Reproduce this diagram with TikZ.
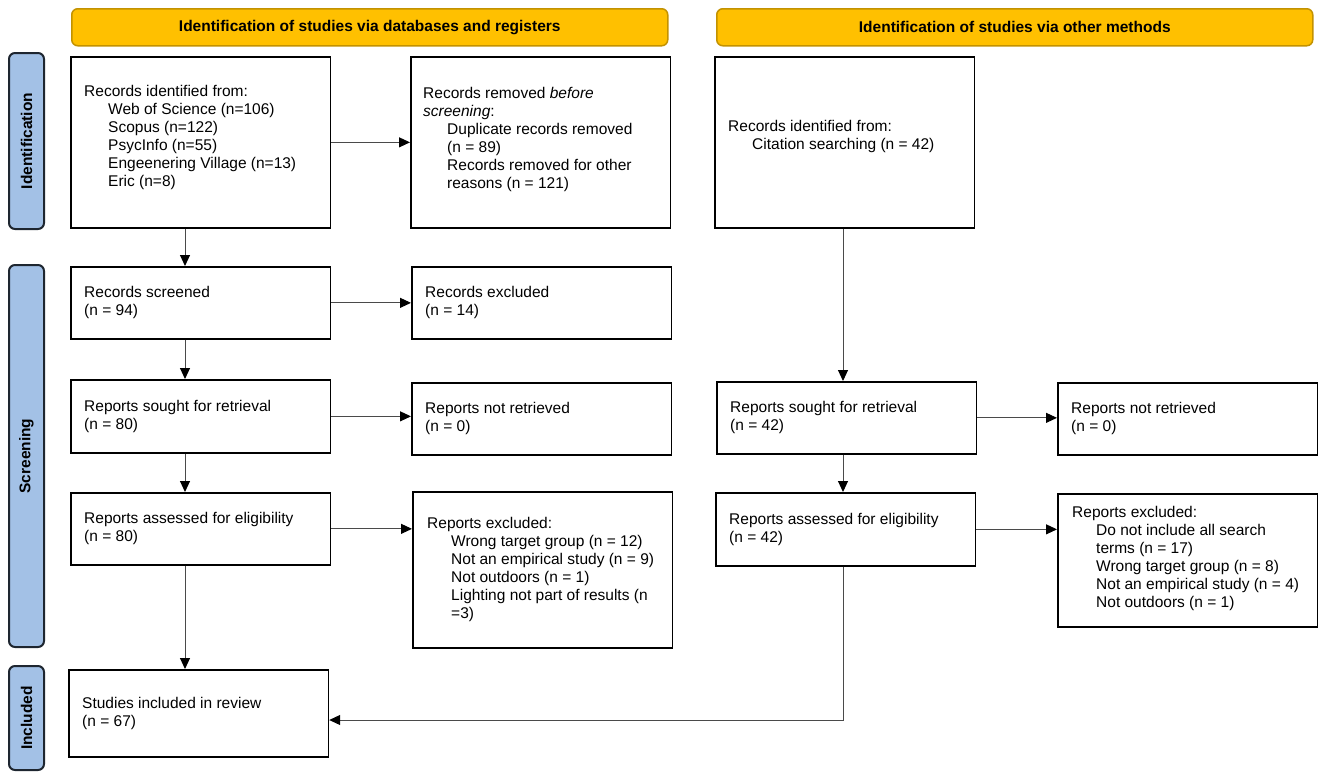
\documentclass[tikz,border=0pt]{standalone}
\usepackage{fontspec}
\setmainfont{Liberation Sans}
\usetikzlibrary{arrows.meta}
\definecolor{hdrfill}{HTML}{FFC000}
\definecolor{hdrline}{HTML}{C39200}
\definecolor{barfill}{HTML}{A3C1E6}
\definecolor{barline}{HTML}{1E2630}
\definecolor{arrcol}{HTML}{4A4A4A}
\newcommand{\myind}{\hspace*{24pt}}
\begin{document}
\begin{tikzpicture}[x=1pt,y=-1pt,
  box/.style={draw=black, line width=1.7pt, fill=white, anchor=north west,
    minimum width=259.5pt, inner sep=0pt},
  txt/.style={anchor=west, inner sep=0pt, align=left,
    font=\fontsize{15.5}{18}\selectfont},
  hdr/.style={draw=hdrline, line width=1.5pt, fill=hdrfill, rounded corners=6pt,
    anchor=north west, minimum width=596pt, minimum height=37pt,
    font=\bfseries\fontsize{15.5}{18}\selectfont},
  sidebar/.style={draw=barline, line width=2pt, fill=barfill, rounded corners=6pt,
    minimum height=35pt, rotate=90, inner sep=0pt,
    font=\bfseries\fontsize{15.5}{18}\selectfont},
  arr/.style={draw=arrcol, line width=1pt,
    -{Triangle[length=11pt,width=10pt,color=black]}}]
\useasboundingbox (0,0) rectangle (1325,780);

% headers
\node[hdr] (h1) at (71,8) {Identification of studies via databases and registers};
\node[hdr] (h2) at (716,8) {Identification of studies via other methods};

% side bars
\node[sidebar, minimum width=176pt] (s1) at (26.5,141) {Identification};
\node[sidebar, minimum width=382pt] (s2) at (26.5,456) {Screening};
\node[sidebar, minimum width=104pt] (s3) at (26.5,718) {Included};

% boxes
\node[box, minimum height=171pt] (A) at (70,56) {};
\node[box, minimum height=171pt] (B) at (410,56) {};
\node[box, minimum height=171pt] (C) at (714,56) {};
\node[box, minimum height=72pt] (D) at (70,266) {};
\node[box, minimum height=72pt] (E) at (411,266) {};
\node[box, minimum height=73pt] (F) at (70,379) {};
\node[box, minimum height=72pt] (G) at (411,382) {};
\node[box, minimum height=72pt] (H) at (716,381) {};
\node[box, minimum height=72pt] (I) at (1057,382) {};
\node[box, minimum height=72pt] (J) at (70,492) {};
\node[box, minimum height=156pt] (K) at (412,491) {};
\node[box, minimum height=73pt] (L) at (715,492) {};
\node[box, minimum height=133pt] (M) at (1057,493) {};
\node[box, minimum height=87pt] (N) at (68,669) {};

% texts
\node[txt] (At) at ([xshift=14pt,yshift=5pt]A.west) {Records identified from:\\
\myind Web of Science (n=106)\\
\myind Scopus (n=122)\\
\myind PsycInfo (n=55)\\
\myind Engeenering Village (n=13)\\
\myind Eric (n=8)};
\node[txt] (Bt) at ([xshift=13pt,yshift=3pt]B.west) {Records removed \textit{before}\\
\textit{screening}:\\
\myind Duplicate records removed\\
\myind (n = 89)\\
\myind Records removed for other\\
\myind reasons (n = 121)};
\node[txt] (Ct) at ([xshift=14pt,yshift=6pt]C.west) {Records identified from:\\
\myind Citation searching (n = 42)};
\node[txt] (Dt) at ([xshift=14pt]D.west) {Records screened\\(n = 94)};
\node[txt] (Et) at ([xshift=14pt]E.west) {Records excluded\\(n = 14)};
\node[txt] (Ft) at ([xshift=14pt]F.west) {Reports sought for retrieval\\(n = 80)};
\node[txt] (Gt) at ([xshift=14pt]G.west) {Reports not retrieved\\(n = 0)};
\node[txt] (Ht) at ([xshift=14pt]H.west) {Reports sought for retrieval\\(n = 42)};
\node[txt] (It) at ([xshift=14pt]I.west) {Reports not retrieved\\(n = 0)};
\node[txt] (Jt) at ([xshift=14pt]J.west) {Reports assessed for eligibility\\(n = 80)};
\node[txt] (Kt) at ([xshift=15pt]K.west) {Reports excluded:\\
\myind Wrong target group (n = 12)\\
\myind Not an empirical study (n = 9)\\
\myind Not outdoors (n = 1)\\
\myind Lighting not part of results (n\\
\myind =3)};
\node[txt] (Lt) at ([xshift=14pt]L.west) {Reports assessed for eligibility\\(n = 42)};
\node[txt] (Mt) at ([xshift=15pt,yshift=2pt]M.west) {Reports excluded:\\
\myind Do not include all search\\
\myind terms (n = 17)\\
\myind Wrong target group (n = 8)\\
\myind Not an empirical study (n = 4)\\
\myind Not outdoors (n = 1)};
\node[txt] (Nt) at ([xshift=14pt]N.west) {Studies included in review\\(n = 67)};

% helper coordinates
\coordinate (lx) at (185,0);
\coordinate (rx) at (843,0);
\coordinate (ny) at (0,720);

% connectors
\draw[arr] (A.south -| lx) -- (D.north -| lx);
\draw[arr] (D.south -| lx) -- (F.north -| lx);
\draw[arr] (F.south -| lx) -- (J.north -| lx);
\draw[arr] (J.south -| lx) -- (N.north -| lx);
\draw[arr] (A.east) -- (B.west |- A.east);
\draw[arr] (D.east) -- (E.west |- D.east);
\draw[arr] (F.east) -- (G.west |- F.east);
\draw[arr] (J.east) -- (K.west |- J.east);
\draw[arr] (C.south -| rx) -- (H.north -| rx);
\draw[arr] (H.south -| rx) -- (L.north -| rx);
\draw[arr] (H.east) -- (I.west |- H.east);
\draw[arr] (L.east) -- (M.west |- L.east);
\draw[arr] (L.south -| rx) -- (rx |- ny) -- (N.east |- ny);
\end{tikzpicture}
\end{document}
